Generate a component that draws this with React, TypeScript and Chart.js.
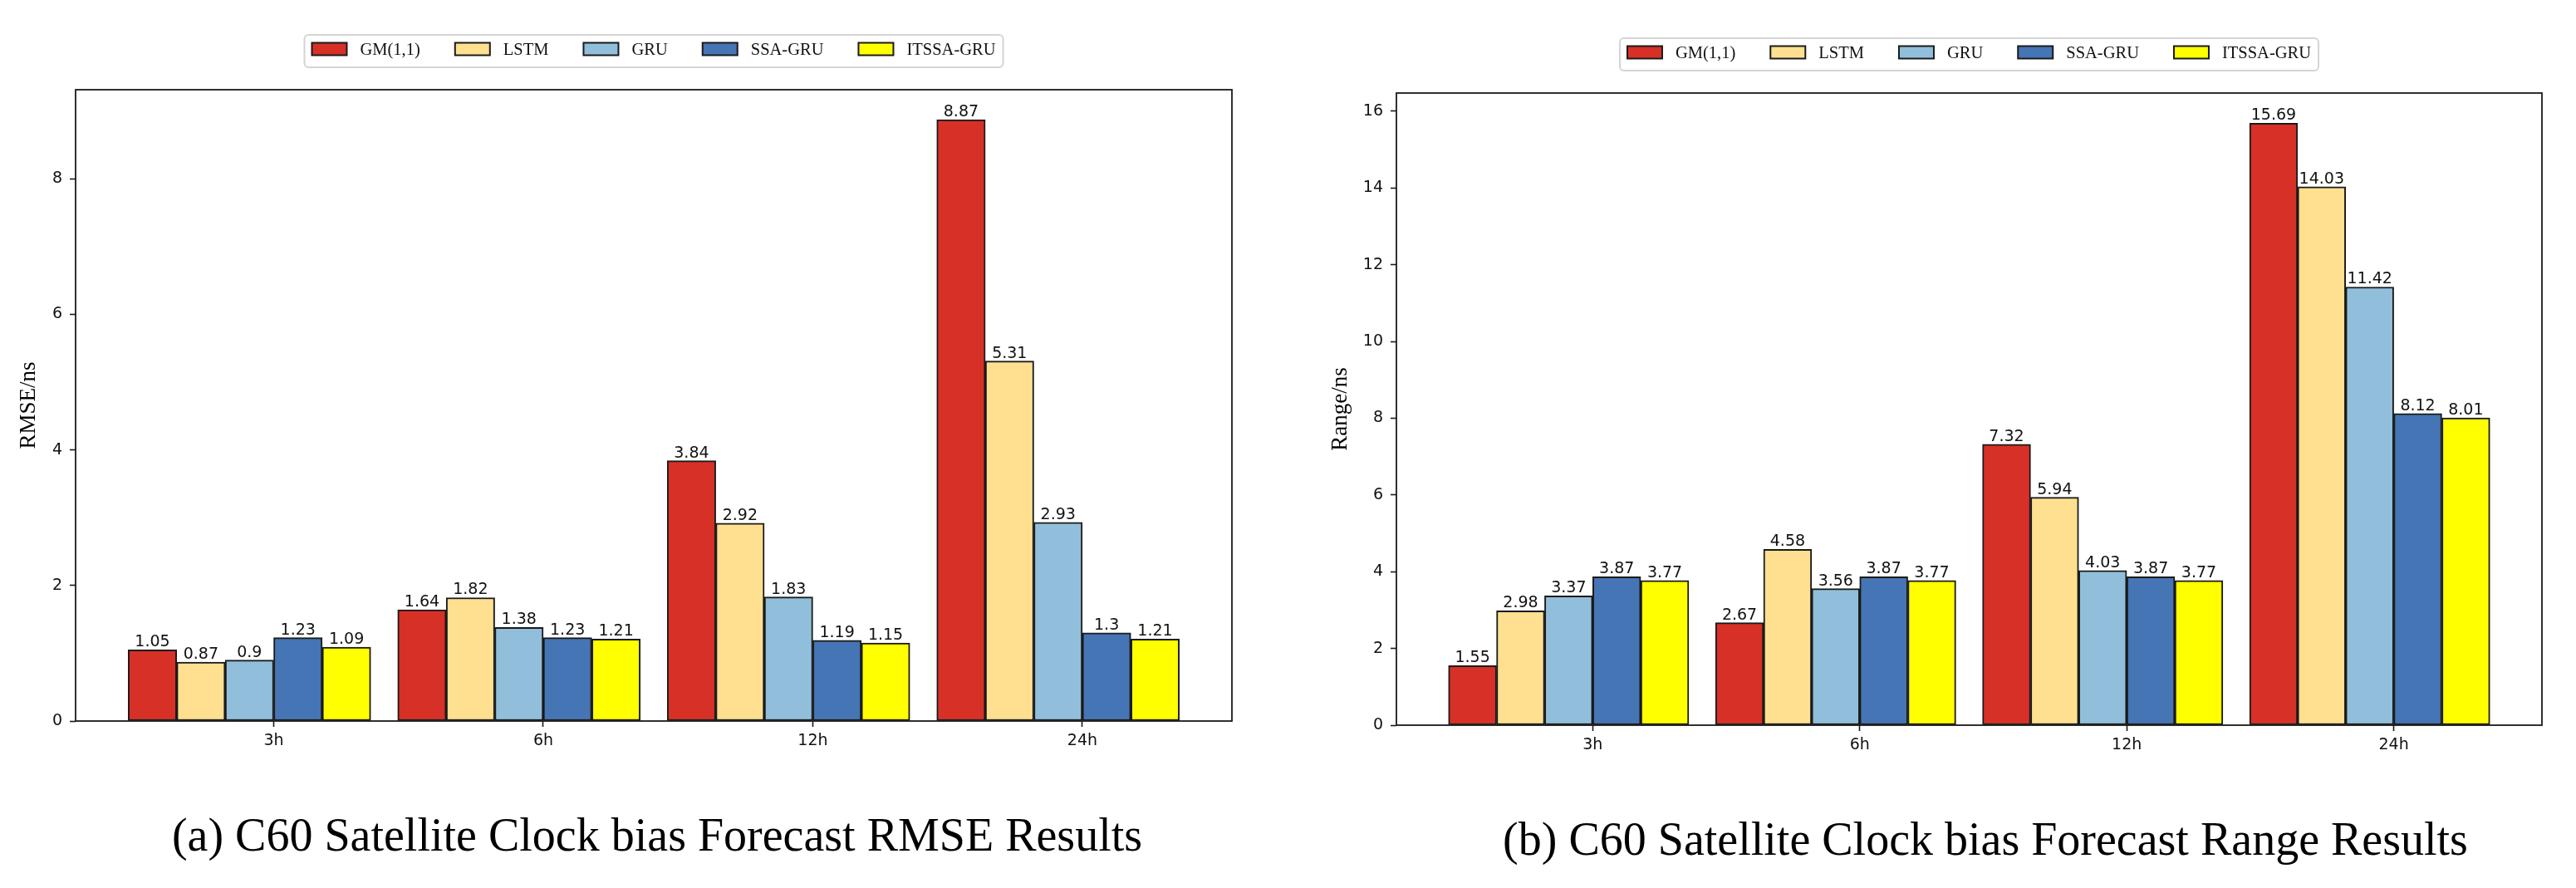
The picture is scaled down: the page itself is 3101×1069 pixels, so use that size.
import React, { useEffect, useRef } from "react";
import { Chart, registerables } from "chart.js";

Chart.register(...registerables);

// ---- data ----
const horizons = ["3h", "6h", "12h", "24h"];
const modelNames = ["GM(1,1)", "LSTM", "GRU", "SSA-GRU", "ITSSA-GRU"];
const modelColors = ["#d73027", "#fee090", "#91bfdb", "#4575b4", "#ffff00"];

const rmseGM = [1.05, 1.64, 3.84, 8.87];
const rmseLSTM = [0.87, 1.82, 2.92, 5.31];
const rmseGRU = [0.9, 1.38, 1.83, 2.93];
const rmseSSA = [1.23, 1.23, 1.19, 1.3];
const rmseITSSA = [1.09, 1.21, 1.15, 1.21];

const rangeGM = [1.55, 2.67, 7.32, 15.69];
const rangeLSTM = [2.98, 4.58, 5.94, 14.03];
const rangeGRU = [3.37, 3.56, 4.03, 11.42];
const rangeSSA = [3.87, 3.87, 3.87, 8.12];
const rangeITSSA = [3.77, 3.77, 3.77, 8.01];

const rmseTicks = [0, 2, 4, 6, 8];
const rangeTicks = [0, 2, 4, 6, 8, 10, 12, 14, 16];

const rmseTitle = "RMSE/ns";
const rangeTitle = "Range/ns";
const captionA = "(a) C60 Satellite Clock bias Forecast RMSE Results";
const captionB = "(b) C60 Satellite Clock bias Forecast Range Results";

// ---- styling ----
const BAR_WIDTH = 0.18;
const SANS = "'DejaVu Sans', sans-serif";
const SERIF = "'Liberation Serif', 'Times New Roman', serif";
const INK = "#111111";
const SPINE = "#1a1a1a";

const framePlugin = {
  id: "axesFrame",
  afterDatasetsDraw(chart: any) {
    const { ctx, chartArea: a } = chart;
    ctx.save();
    ctx.strokeStyle = SPINE;
    ctx.lineWidth = 1.8;
    ctx.strokeRect(a.left, a.top, a.right - a.left, a.bottom - a.top);
    ctx.restore();
  },
};

const valueLabelPlugin = {
  id: "valueLabels",
  afterDatasetsDraw(chart: any) {
    const { ctx } = chart;
    ctx.save();
    ctx.font = `19px ${SANS}`;
    ctx.fillStyle = INK;
    ctx.textAlign = "center";
    ctx.textBaseline = "alphabetic";
    chart.data.datasets.forEach((ds: any, di: number) => {
      const meta = chart.getDatasetMeta(di);
      meta.data.forEach((bar: any, i: number) => {
        const v = ds.data[i].y;
        ctx.fillText(String(v), bar.x, bar.y - 4);
      });
    });
    ctx.restore();
  },
};

const legendPlugin = {
  id: "mplLegend",
  afterDraw(chart: any) {
    const { ctx, chartArea: a } = chart;
    const fs = 20.5;
    const boxW = 42;
    const boxH = 15;
    const textPad = 16;
    const colGap = 42;
    const sidePad = 9;
    const h = 39;
    ctx.save();
    ctx.font = `${fs}px ${SERIF}`;
    const items = chart.data.datasets.map((ds: any) => ({
      label: ds.label as string,
      color: ds.backgroundColor as string,
    }));
    const widths = items.map((it: any) => ctx.measureText(it.label).width);
    const textSum = widths.reduce((s: number, w: number) => s + w, 0);
    const total =
      sidePad * 2 + items.length * (boxW + textPad) + textSum + (items.length - 1) * colGap;
    const cx = (a.left + a.right) / 2;
    const left = cx - total / 2;
    const top = a.top - 66;
    ctx.beginPath();
    (ctx as any).roundRect(left, top, total, h, 5);
    ctx.fillStyle = "rgba(255,255,255,0.9)";
    ctx.fill();
    ctx.strokeStyle = "#d4d4d4";
    ctx.lineWidth = 2;
    ctx.stroke();
    let x = left + sidePad;
    const boxCenter = top + 17;
    const textMid = top + 18.5;
    items.forEach((it: any, i: number) => {
      ctx.fillStyle = it.color;
      ctx.fillRect(x, boxCenter - boxH / 2, boxW, boxH);
      ctx.strokeStyle = SPINE;
      ctx.lineWidth = 2;
      ctx.strokeRect(x, boxCenter - boxH / 2, boxW, boxH);
      ctx.fillStyle = INK;
      ctx.textAlign = "left";
      ctx.textBaseline = "middle";
      ctx.fillText(it.label, x + boxW + textPad, textMid);
      x += boxW + textPad + widths[i] + colGap;
    });
    ctx.restore();
  },
};

function buildConfig(
  series: number[][],
  yTitle: string,
  yTicks: number[],
  pad: { left: number; right: number; top: number; bottom: number },
  yWidth: number
): any {
  const lo = -2.5 * BAR_WIDTH - BAR_WIDTH / 2;
  const hi = horizons.length - 1 + 1.5 * BAR_WIDTH + BAR_WIDTH / 2;
  const margin = 0.05 * (hi - lo);
  const maxVal = Math.max(...series.flat());
  return {
    type: "bar",
    data: {
      datasets: series.map((vals, i) => ({
        label: modelNames[i],
        data: vals.map((y, c) => ({ x: c + (i - 2.5) * BAR_WIDTH, y })),
        backgroundColor: modelColors[i],
        borderColor: SPINE,
        borderWidth: 2,
        borderSkipped: false,
        grouped: false,
        barPercentage: 1,
        categoryPercentage: 1,
      })),
    },
    options: {
      responsive: false,
      animation: false,
      events: [],
      layout: { padding: pad },
      plugins: {
        legend: { display: false },
        tooltip: { enabled: false },
        title: { display: false },
      },
      scales: {
        x: {
          type: "linear",
          min: lo - margin,
          max: hi + margin,
          offset: false,
          afterBuildTicks: (s: any) => {
            s.ticks = horizons.map((_, i) => ({ value: i }));
          },
          ticks: {
            callback: (v: any) => horizons[v] ?? "",
            font: { family: SANS, size: 19 },
            color: INK,
            padding: 6,
            maxRotation: 0,
            autoSkip: false,
          },
          grid: {
            display: true,
            drawOnChartArea: false,
            drawTicks: true,
            tickLength: 7,
            tickColor: SPINE,
            tickWidth: 1.6,
            offset: false,
          },
          border: { display: false },
          afterFit: (s: any) => {
            s.height = 60;
          },
        },
        y: {
          type: "linear",
          min: 0,
          max: maxVal * 1.05,
          afterBuildTicks: (s: any) => {
            s.ticks = yTicks.map((v) => ({ value: v }));
          },
          ticks: {
            font: { family: SANS, size: 19 },
            color: INK,
            padding: 9,
            callback: (v: any) => String(v),
          },
          grid: {
            display: true,
            drawOnChartArea: false,
            drawTicks: true,
            tickLength: 7,
            tickColor: SPINE,
            tickWidth: 1.6,
          },
          border: { display: false },
          title: {
            display: true,
            text: yTitle,
            font: { family: SERIF, size: 27 },
            color: "#000",
            padding: 0,
          },
          afterFit: (s: any) => {
            s.width = yWidth;
          },
        },
      },
    },
    plugins: [framePlugin, valueLabelPlugin, legendPlugin],
  };
}

function Panel(props: {
  left: number;
  width: number;
  series: number[][];
  yTitle: string;
  yTicks: number[];
  pad: { left: number; right: number; top: number; bottom: number };
  yWidth: number;
}) {
  const ref = useRef<HTMLCanvasElement | null>(null);
  useEffect(() => {
    if (!ref.current) return;
    const chart = new Chart(
      ref.current,
      buildConfig(props.series, props.yTitle, props.yTicks, props.pad, props.yWidth)
    );
    return () => chart.destroy();
  }, []);
  return (
    <canvas
      ref={ref}
      width={props.width}
      height={1069}
      style={{
        position: "absolute",
        left: props.left,
        top: 0,
        width: props.width,
        height: 1069,
      }}
    />
  );
}

export default function App() {
  const captionStyle: React.CSSProperties = {
    position: "absolute",
    fontFamily: SERIF,
    fontSize: 56,
    lineHeight: "56px",
    color: "#000",
    textAlign: "center",
    whiteSpace: "nowrap",
  };
  return (
    <div
      style={{
        position: "absolute",
        left: 0,
        top: 0,
        width: 3101,
        height: 1069,
        background: "#fff",
        overflow: "hidden",
      }}
    >
      <Panel
        left={0}
        width={1550}
        series={[rmseGM, rmseLSTM, rmseGRU, rmseSSA, rmseITSSA]}
        yTitle={rmseTitle}
        yTicks={rmseTicks}
        pad={{ left: 19, right: 67, top: 108, bottom: 141 }}
        yWidth={72}
      />
      <Panel
        left={1550}
        width={1551}
        series={[rangeGM, rangeLSTM, rangeGRU, rangeSSA, rangeITSSA]}
        yTitle={rangeTitle}
        yTicks={rangeTicks}
        pad={{ left: 48, right: 41, top: 112, bottom: 136 }}
        yWidth={83}
      />
      <div style={{ ...captionStyle, left: 0, width: 1582, top: 977 }}>{captionA}</div>
      <div style={{ ...captionStyle, left: 1550, width: 1680, top: 982 }}>{captionB}</div>
    </div>
  );
}
